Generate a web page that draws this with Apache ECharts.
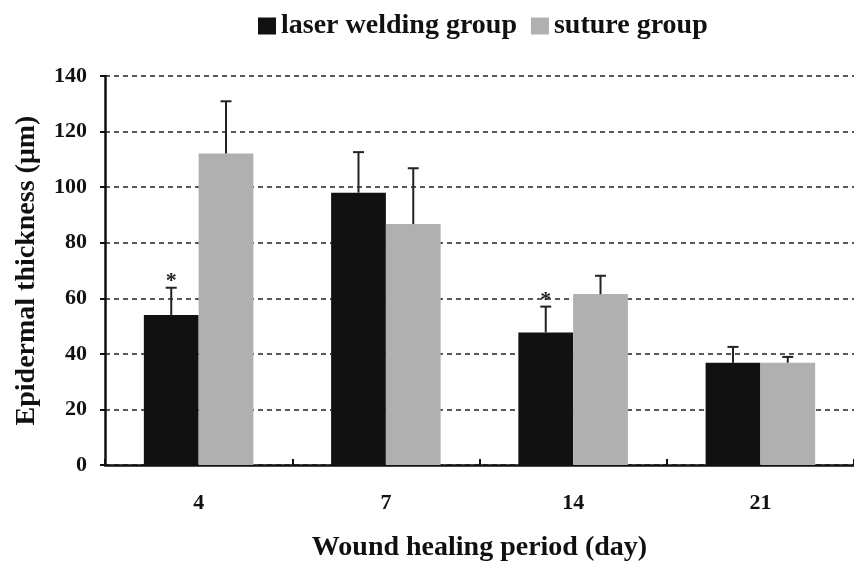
<!DOCTYPE html>
<html>
<head>
<meta charset="utf-8">
<script src="https://cdn.jsdelivr.net/npm/echarts@6/dist/echarts.min.js"></script>
<style>
  html, body { margin: 0; padding: 0; background: #fff; }
  #main { width: 854px; height: 567px; }
</style>
</head>
<body>
<div id="main"></div>
<script>
var days = ['4', '7', '14', '21'];
var laserMean = [54, 98, 47.7, 36.8];
var laserSD = [9.8, 14.6, 9.3, 5.7];
var sutureMean = [112.1, 86.7, 61.5, 36.8];
var sutureSD = [18.8, 20.1, 6.6, 2.1];
var laserMark = ['*', '', '*', ''];

var FONT = '"Liberation Serif", "Times New Roman", serif';
var chart = echarts.init(document.getElementById('main'));

// one-sided (upper) error bars, optionally with a significance mark on top
function errorSeries(name, means, sds, marks, side) {
  return {
    type: 'custom',
    name: name + ' err',
    z: 5,
    silent: true,
    data: days.map(function (d, i) { return [i, means[i], means[i] + sds[i]]; }),
    renderItem: function (params, api) {
      var i = api.value(0);
      var catW = api.size([1, 0])[0];
      var barW = catW * (1 - 0.415) / 2;
      var base = api.coord([i, api.value(1)]);
      var top = api.coord([i, api.value(2)]);
      var x = base[0] + side * barW / 2;
      var style = { stroke: '#222', lineWidth: 2 };
      var kids = [
        { type: 'line', shape: { x1: x, y1: base[1], x2: x, y2: top[1] }, style: style },
        { type: 'line', shape: { x1: x - 5.5, y1: top[1], x2: x + 5.5, y2: top[1] }, style: style }
      ];
      if (marks && marks[i]) {
        kids.push({
          type: 'text',
          style: { text: marks[i], x: x, y: top[1] + 5, align: 'center', verticalAlign: 'bottom',
                   font: 'bold 22px ' + FONT, fill: '#222' }
        });
      }
      return { type: 'group', children: kids };
    }
  };
}

var option = {
  animation: false,
  backgroundColor: '#fff',
  textStyle: { fontFamily: FONT },
  legend: {
    top: 7,
    left: 253,
    icon: 'rect',
    itemWidth: 18,
    itemHeight: 17,
    itemGap: 14,
    data: ['laser welding group', 'suture group'],
    textStyle: { fontFamily: FONT, fontWeight: 'bold', fontSize: 28, color: '#111' }
  },
  grid: { left: 105, top: 76, width: 755, height: 393 },
  xAxis: {
    type: 'category',
    data: days,
    name: 'Wound healing period (day)',
    nameLocation: 'middle',
    nameGap: 69,
    nameTextStyle: { fontFamily: FONT, fontWeight: 'bold', fontSize: 28, color: '#111' },
    axisLine: { lineStyle: { color: '#111', width: 2.5 } },
    axisTick: { show: true, inside: true, length: 6, lineStyle: { color: '#111', width: 2 } },
    axisLabel: { margin: 27, fontFamily: FONT, fontWeight: 'bold', fontSize: 22, color: '#111' }
  },
  yAxis: {
    type: 'value',
    min: 0,
    max: 140,
    interval: 20,
    name: 'Epidermal thickness (μm)',
    nameLocation: 'middle',
    nameGap: 64,
    nameTextStyle: { fontFamily: FONT, fontWeight: 'bold', fontSize: 28, color: '#111' },
    axisLine: { show: true, lineStyle: { color: '#111', width: 2.5 } },
    axisTick: { show: true, length: 5, lineStyle: { color: '#111', width: 2 } },
    axisLabel: { margin: 18, fontFamily: FONT, fontWeight: 'bold', fontSize: 22, color: '#111' },
    splitLine: { lineStyle: { color: '#222', width: 1.5, type: [5, 4] } }
  },
  series: [
    {
      name: 'laser welding group',
      type: 'bar',
      data: laserMean,
      barGap: '0%',
      barCategoryGap: '41.5%',
      itemStyle: { color: '#111111' }
    },
    {
      name: 'suture group',
      type: 'bar',
      data: sutureMean,
      barGap: '0%',
      barCategoryGap: '41.5%',
      itemStyle: { color: '#b0b0b0' }
    },
    errorSeries('laser welding group', laserMean, laserSD, laserMark, -1),
    errorSeries('suture group', sutureMean, sutureSD, null, 1)
  ]
};

chart.setOption(option);
</script>
</body>
</html>
